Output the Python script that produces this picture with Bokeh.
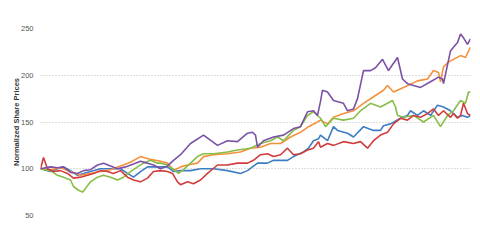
from bokeh.plotting import figure
from bokeh.models import FixedTicker, Range1d
from bokeh.embed import file_html
from bokeh.resources import INLINE

# Trading-day index (relative) and normalized share prices (start = 100)
blue_x = [0, 10, 17, 23, 30, 37, 43, 50, 60, 70, 80, 87, 93, 100, 107, 113, 120, 127, 133, 140, 150, 160, 173, 187, 200, 207, 217, 227, 233, 247, 253, 263, 268, 273, 278, 280, 287, 293, 297, 307, 313, 323, 333, 340, 343, 350, 360, 367, 370, 377, 383, 390, 397, 403, 410, 417, 422, 427, 430]
blue_y = [100, 97, 100, 102, 98, 93, 95, 97, 100, 100, 100, 95, 91, 97, 102, 102, 102, 102, 97, 98, 98, 100, 100, 98, 95, 98, 106, 106, 109, 109, 113, 118, 122, 130, 132, 136, 130, 145, 141, 138, 134, 145, 141, 141, 146, 148, 154, 157, 162, 157, 162, 157, 168, 166, 162, 155, 157, 155, 157]

orange_x = [0, 10, 20, 30, 40, 50, 60, 70, 80, 90, 100, 110, 120, 127, 132, 135, 140, 147, 157, 163, 173, 187, 200, 210, 220, 230, 240, 250, 260, 268, 277, 280, 287, 293, 303, 313, 323, 333, 343, 347, 353, 363, 377, 387, 393, 398, 400, 403, 408, 413, 420, 425, 430]
orange_y = [100, 99, 101, 97, 93, 95, 97, 99, 103, 107, 113, 110, 108, 106, 100, 99, 102, 104, 106, 113, 115, 116, 118, 122, 123, 127, 127, 134, 139, 145, 150, 152, 148, 155, 159, 162, 170, 177, 184, 189, 182, 187, 194, 196, 205, 203, 193, 209, 214, 217, 221, 219, 230]

green_x = [0, 10, 17, 23, 30, 33, 38, 42, 45, 50, 57, 63, 70, 77, 83, 90, 97, 103, 110, 117, 120, 127, 133, 138, 143, 150, 157, 163, 173, 187, 197, 210, 220, 230, 237, 243, 253, 260, 267, 273, 280, 285, 293, 303, 313, 320, 330, 340, 347, 352, 355, 357, 363, 373, 383, 393, 400, 407, 413, 420, 425, 428, 430]
green_y = [100, 98, 93, 91, 88, 81, 77, 75, 79, 86, 91, 93, 91, 88, 91, 97, 102, 106, 109, 106, 106, 104, 99, 95, 99, 106, 113, 116, 116, 118, 120, 122, 127, 130, 134, 130, 141, 145, 157, 161, 154, 145, 154, 152, 154, 162, 170, 166, 170, 173, 166, 157, 155, 157, 150, 157, 145, 157, 162, 173, 170, 182, 182]

red_x = [0, 3, 7, 13, 20, 27, 33, 40, 47, 53, 60, 67, 73, 80, 87, 93, 100, 107, 113, 120, 127, 132, 137, 140, 147, 153, 160, 167, 177, 187, 197, 207, 213, 220, 227, 233, 240, 247, 253, 260, 267, 273, 278, 280, 287, 293, 303, 313, 320, 327, 333, 340, 347, 353, 360, 367, 373, 380, 387, 393, 398, 403, 410, 413, 417, 420, 423, 427, 430]
red_y = [100, 112, 100, 97, 98, 95, 90, 91, 93, 95, 98, 97, 95, 98, 91, 88, 86, 90, 97, 98, 97, 95, 86, 83, 86, 84, 88, 95, 104, 104, 106, 106, 109, 115, 116, 113, 115, 122, 115, 116, 120, 122, 129, 123, 127, 125, 129, 127, 129, 122, 130, 136, 139, 148, 154, 152, 157, 155, 159, 164, 157, 162, 155, 159, 154, 157, 170, 159, 157]

purple_x = [0, 10, 17, 23, 30, 37, 43, 50, 57, 63, 70, 77, 85, 93, 100, 107, 113, 120, 127, 133, 140, 150, 163, 177, 187, 197, 207, 212, 215, 217, 223, 233, 243, 253, 260, 267, 273, 277, 280, 282, 287, 293, 303, 307, 313, 317, 320, 323, 330, 335, 342, 348, 357, 362, 367, 380, 390, 398, 402, 403, 410, 413, 417, 420, 423, 427, 430]
purple_y = [100, 102, 101, 102, 96, 95, 98, 99, 104, 106, 103, 100, 102, 105, 108, 106, 104, 100, 103, 109, 115, 127, 136, 125, 130, 129, 138, 139, 136, 123, 130, 134, 136, 143, 145, 161, 162, 157, 172, 184, 182, 173, 170, 162, 164, 175, 190, 205, 205, 208, 217, 205, 219, 196, 191, 187, 193, 198, 196, 191, 226, 230, 235, 244, 240, 233, 239]

series = [
    (blue_x, blue_y, "#3d7dc4"),
    (orange_x, orange_y, "#f5913e"),
    (green_x, green_y, "#88bd47"),
    (red_x, red_y, "#d23c3c"),
    (purple_x, purple_y, "#7b51a6"),
]

y_ticks = [50, 100, 150, 200, 250]
y_title = "Normalized Share Prices"

p = figure(width=480, height=251, output_backend="svg", toolbar_location=None,
           x_range=Range1d(0, 430), y_range=Range1d(50, 250),
           min_border_left=40, min_border_right=10, min_border_top=28, min_border_bottom=36)

for xs, ys, c in series:
    p.line(xs, ys, line_color=c, line_width=1.6)

p.xaxis.visible = False
p.xgrid.visible = False
p.ygrid.ticker = FixedTicker(ticks=y_ticks)
p.ygrid.grid_line_color = "#bbbbbb"
p.ygrid.grid_line_dash = "1 2"
p.ygrid.grid_line_width = 1

ya = p.yaxis[0]
ya.ticker = FixedTicker(ticks=y_ticks)
ya.axis_line_color = None
ya.major_tick_line_color = None
ya.minor_tick_line_color = None
ya.major_tick_out = 0
ya.major_tick_in = 0
ya.major_label_standoff = 7
ya.major_label_text_font = "Liberation Sans"
ya.major_label_text_font_size = "7.5px"
ya.major_label_text_color = "#555555"
ya.axis_label = y_title
ya.axis_label_text_font = "Liberation Sans"
ya.axis_label_text_font_size = "7.5px"
ya.axis_label_text_font_style = "bold"
ya.axis_label_text_color = "#333333"
ya.axis_label_standoff = -3

p.outline_line_color = None
p.background_fill_color = "white"
p.border_fill_color = "white"

open("out.html", "w").write(file_html(p, INLINE))
